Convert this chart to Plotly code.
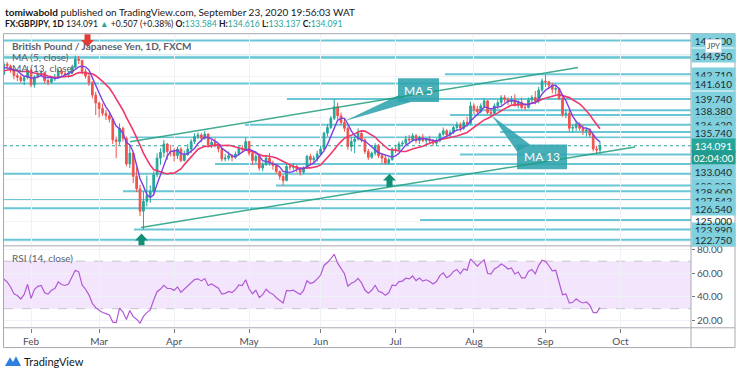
import numpy as np
import pandas as pd
import plotly.graph_objects as go

W, H = 740, 373

# ---------------- data (GBPJPY daily, FXCM) ----------------
close_warm = [143.90, 142.15, 142.55, 142.40, 143.55, 143.70, 142.55, 142.40, 142.90, 143.10, 143.95, 143.60, 143.45, 142.70]
high_warm  = [144.20, 143.90, 142.80, 142.90, 143.80, 144.00, 143.90, 142.90, 143.10, 143.40, 144.10, 144.20, 143.80, 143.60]
low_warm   = [143.40, 141.90, 141.80, 142.10, 142.10, 143.20, 142.40, 142.00, 142.30, 142.60, 143.00, 143.40, 143.10, 142.50]

close_jan = [143.95, 143.70, 143.25, 142.55, 142.35, 141.95, 142.30, 143.20]
high_jan  = [144.30, 144.20, 143.90, 143.30, 142.90, 142.60, 142.50, 143.70]
low_jan   = [142.60, 143.30, 142.90, 142.10, 141.90, 141.70, 141.40, 142.10]

close_feb = [141.45, 142.40, 142.80, 142.90, 141.95, 141.75, 142.15, 142.35, 143.10, 142.80,
             142.70, 142.85, 143.55, 144.55, 144.40, 143.05, 142.50, 141.70, 140.20, 139.25]
high_feb  = [143.40, 142.60, 143.10, 143.20, 142.95, 142.20, 142.40, 142.75, 143.35, 143.30,
             143.00, 143.10, 143.75, 144.95, 144.90, 144.35, 143.40, 142.80, 141.90, 140.60]
low_feb   = [141.15, 141.10, 142.20, 142.50, 141.60, 141.40, 141.60, 141.90, 142.20, 142.55,
             142.40, 142.30, 142.70, 143.40, 143.95, 142.70, 142.20, 141.30, 139.80, 137.80]

close_mar = [138.60, 138.00, 137.70, 137.30, 134.80, 134.60, 136.20, 135.00, 131.90, 133.20, 130.40,
             128.90, 126.20, 127.40, 128.10, 128.60, 130.60, 132.60, 133.30, 134.30, 133.40, 133.40]
high_mar  = [139.40, 139.20, 138.40, 138.10, 137.40, 135.20, 136.80, 136.40, 135.20, 134.20, 133.10,
             131.50, 129.40, 128.60, 130.50, 129.30, 131.00, 133.20, 133.80, 134.80, 134.40, 134.20]
low_mar   = [137.50, 137.70, 137.20, 136.90, 134.30, 132.60, 134.20, 134.60, 131.60, 131.40, 129.60,
             128.50, 125.60, 124.00, 126.80, 127.20, 128.40, 130.30, 131.80, 132.70, 132.40, 132.80]

close_apr = [132.90, 133.70, 132.30, 133.00, 133.70, 134.60, 135.20, 135.40, 135.00, 135.50, 134.20,
             134.50, 134.10, 133.70, 132.50, 132.60, 132.90, 132.70, 133.10, 133.80, 133.70, 134.60]
high_apr  = [133.80, 134.00, 133.90, 133.50, 134.30, 134.90, 135.60, 135.70, 135.60, 135.90, 135.60,
             134.80, 135.00, 134.40, 133.80, 133.10, 133.40, 133.10, 133.40, 134.10, 134.20, 135.10]
low_apr   = [132.20, 132.50, 132.10, 132.20, 132.90, 133.20, 134.30, 134.90, 134.50, 134.80, 133.90,
             133.80, 133.90, 133.30, 132.20, 132.20, 132.30, 132.20, 132.50, 132.90, 133.30, 133.60]

close_may = [133.20, 132.30, 132.80, 131.40, 131.80, 132.60, 132.00, 131.70, 131.00, 130.40, 129.90,
             131.60, 131.50, 131.60, 131.30, 130.90, 131.40, 132.80, 132.40, 132.60, 133.10]
high_may  = [134.60, 133.30, 133.10, 132.90, 132.10, 132.90, 133.20, 132.30, 131.90, 131.10, 130.60,
             131.90, 131.90, 132.00, 131.80, 131.40, 131.60, 133.00, 133.10, 132.90, 133.50]
low_may   = [132.90, 131.80, 132.00, 131.10, 131.00, 131.70, 131.70, 131.20, 130.70, 130.00, 129.30,
             129.80, 131.10, 131.10, 130.90, 130.50, 130.70, 131.30, 131.90, 131.90, 132.20]

close_jun = [133.70, 135.60, 136.30, 137.40, 138.80, 137.70, 136.90, 136.20, 134.00, 134.60, 134.90,
             135.60, 134.80, 133.40, 132.70, 133.20, 134.10, 132.90, 132.60, 132.00, 132.40, 133.70]
high_jun  = [134.10, 135.80, 136.70, 137.70, 139.75, 139.30, 138.10, 137.40, 136.50, 135.20, 135.20,
             136.20, 135.70, 135.00, 133.70, 133.40, 134.40, 134.30, 133.20, 132.90, 132.70, 133.90]
low_jun   = [132.90, 133.60, 135.20, 136.10, 137.20, 137.30, 136.60, 135.80, 133.60, 133.40, 133.20,
             134.70, 134.50, 133.10, 132.40, 132.50, 132.90, 132.60, 132.00, 131.80, 131.80, 132.30]

close_jul = [133.60, 134.30, 134.40, 134.90, 134.80, 135.30, 134.70, 135.10, 134.70, 134.90, 134.70, 134.40,
             134.70, 135.50, 135.90, 135.40, 135.70, 136.30, 136.60, 136.20, 136.90, 136.80, 138.90]
high_jul  = [134.20, 134.60, 134.70, 135.30, 135.40, 135.60, 135.50, 135.30, 135.50, 135.00, 135.30, 134.90,
             135.00, 135.70, 136.30, 136.10, 136.00, 136.50, 137.00, 136.90, 137.20, 137.60, 139.40]
low_jul   = [133.20, 133.40, 134.00, 134.30, 134.50, 134.60, 134.40, 134.30, 134.50, 134.00, 134.40, 134.10,
             134.20, 134.50, 135.30, 135.10, 135.10, 135.50, 135.90, 135.80, 136.00, 136.40, 136.60]

close_aug = [138.50, 138.20, 138.90, 139.50, 138.10, 138.00, 138.90, 139.30, 139.90, 139.70, 139.40,
             139.60, 139.00, 139.30, 138.70, 138.70, 139.60, 139.90, 139.50, 140.80, 141.90]
high_aug  = [139.20, 138.90, 139.20, 139.80, 139.60, 138.60, 139.20, 139.60, 140.20, 140.20, 139.90,
             140.10, 140.30, 139.60, 139.90, 139.20, 139.90, 140.20, 140.70, 141.20, 142.20]
low_aug   = [137.90, 137.90, 138.00, 138.60, 137.90, 137.70, 137.80, 138.50, 139.00, 139.30, 139.00,
             139.10, 138.80, 138.60, 138.50, 138.40, 138.60, 139.20, 139.10, 139.20, 140.60]

close_sep = [141.80, 141.40, 140.90, 141.00, 139.80, 137.90, 138.00, 136.20, 136.30, 136.70, 136.20,
             135.90, 136.00, 135.40, 133.70, 133.584, 134.091]
high_sep  = [142.71, 141.95, 141.70, 141.40, 141.10, 140.00, 138.50, 138.40, 136.60, 137.10, 136.90,
             136.60, 136.30, 136.20, 135.60, 134.10, 134.616]
low_sep   = [141.20, 140.90, 140.40, 140.30, 139.60, 137.60, 137.40, 135.80, 135.70, 135.90, 135.90,
             135.40, 135.20, 135.10, 133.40, 133.10, 133.137]

months = ["Feb", "Mar", "Apr", "May", "Jun", "Jul", "Aug", "Sep", "Oct"]

# horizontal support / resistance levels drawn on the chart (price, first bar index)
sr_levels = [146.80, 144.95, 144.71, 142.71, 141.61, 139.74, 138.38, 137.80, 136.62, 135.74,
             135.08, 133.04, 131.90, 130.70, 129.29, 128.60, 127.543, 126.54, 125.15, 123.99, 122.75]
sr_start  = [None, None, None, 143.5, None, 97.1, 150.9, 145.0, 84.8, 159.7,
             51.1, 147.9, 76.0, 14.0, 93.9, 49.0, None, None, 136.2, 52.2, None]

# price-axis tags (text, price, pixel shift)
axis_tags = [("146.800", 146.80, 0), ("144.950", 144.95, 0), ("142.710", 142.71, 0), ("141.610", 141.61, 0),
             ("139.740", 139.74, 0), ("137.800", 137.80, 0), ("138.380", 138.38, 0), ("136.620", 136.62, 0),
             ("135.740", 135.74, 0), ("133.040", 133.04, -17), ("129.290", 129.29, 0), ("128.600", 128.60, 0),
             ("127.543", 127.543, 0), ("126.540", 126.54, 0), ("123.990", 123.99, 0), ("122.750", 122.75, 0)]

# trend channel drawn by the author (bar index, price)
channel_upper = [(51.06, 134.57), (182.55, 143.52)]
channel_lower = [(54.3, 124.22), (199.3, 133.95)]

last_price = 134.091

# ---------------- derived series ----------------
dates = pd.bdate_range("2020-01-02", "2020-09-23")
close = close_warm + close_jan + close_feb + close_mar + close_apr + close_may + close_jun + close_jul + close_aug + close_sep
high = high_warm + high_jan + high_feb + high_mar + high_apr + high_may + high_jun + high_jul + high_aug + high_sep
low = low_warm + low_jan + low_feb + low_mar + low_apr + low_may + low_jun + low_jul + low_aug + low_sep
assert len(close) == len(high) == len(low) == len(dates), (len(close), len(high), len(low), len(dates))
opens = [close[0]] + close[:-1]  # FX daily bars open at the prior close

s = pd.Series(close)
ma5 = s.rolling(5).mean()
ma13 = s.rolling(13).mean()
d = s.diff().fillna(0)
up = d.clip(lower=0).ewm(alpha=1 / 14, adjust=False).mean()
dn = (-d.clip(upper=0)).ewm(alpha=1 / 14, adjust=False).mean()
rsi = 100 - 100 / (1 + up / dn)
x = np.arange(len(dates))

ext = pd.bdate_range("2020-01-02", "2020-10-30")
tickvals = [int(np.argmax(ext.month == m)) for m in range(2, 11)]

# ---------------- layout geometry (pixels) ----------------
PL, PR = 4, 691          # plot left/right
MT, MB = 30, 244         # main pane top/bottom
RT, RB = 245, 327.3      # rsi pane top/bottom
BAR_PX = (600 - 31) / (len(dates) - 1 - tickvals[0])
x_lo = tickvals[0] - (31 - PL) / BAR_PX
x_hi = tickvals[0] + (PR - 31) / BAR_PX
y_lo, y_hi = 122.074, 147.611

def px(v): return v / W
def py(v): return 1 - v / H
def P(a, b): return f"{px(a):.5f},{py(b):.5f}"
def poly(pts): return "M " + " L ".join(P(a, b) for a, b in pts) + " Z"

UP, DOWN = "#26a69a", "#ef5350"
LINE_BLUE = "#68c6d5"
TAG_BLUE = "#80d0dd"
FRAME = "#a6a9b0"
GRID = "#eef1f5"
FONT = "Lato"

fig = go.Figure()
fig.add_trace(go.Candlestick(
    x=x, open=opens, high=high, low=low, close=close,
    increasing=dict(line=dict(color=UP, width=1), fillcolor=UP),
    decreasing=dict(line=dict(color=DOWN, width=1), fillcolor=DOWN),
    whiskerwidth=0, showlegend=False, hoverinfo="skip", xaxis="x", yaxis="y"))
fig.add_trace(go.Scatter(x=x, y=ma13, mode="lines", line=dict(color="#f0386b", width=1.6),
                         showlegend=False, hoverinfo="skip", xaxis="x", yaxis="y"))
fig.add_trace(go.Scatter(x=x, y=ma5, mode="lines", line=dict(color="#7c3fe0", width=1.4),
                         showlegend=False, hoverinfo="skip", xaxis="x", yaxis="y"))
fig.add_trace(go.Scatter(x=x, y=rsi, mode="lines", line=dict(color="#b25ad6", width=1.2),
                         showlegend=False, hoverinfo="skip", xaxis="x2", yaxis="y2"))

shapes = []
# RSI band
shapes.append(dict(type="rect", xref="x2 domain", yref="y2", x0=0, x1=1, y0=30, y1=70,
                   fillcolor="#f3e5fc", line=dict(width=0), layer="below"))
for lvl in (30, 70):
    shapes.append(dict(type="line", xref="x2 domain", yref="y2", x0=0, x1=1, y0=lvl, y1=lvl,
                       line=dict(color="#c4c6cc", width=1, dash="dash"), layer="below"))
# S/R lines
for lvl, st in zip(sr_levels, sr_start):
    shapes.append(dict(type="line", xref="x", yref="y", x0=x_lo if st is None else st, x1=x_hi,
                       y0=lvl, y1=lvl, line=dict(color=LINE_BLUE, width=2), layer="below"))
# last price dotted line
shapes.append(dict(type="line", xref="x", yref="y", x0=x_lo, x1=x_hi, y0=last_price, y1=last_price,
                   line=dict(color=UP, width=1, dash="dot"), layer="below"))

# arrows
def up_arrow(cx, top, bot):
    return poly([(cx, top), (cx + 6.5, top + 7), (cx + 3, top + 7), (cx + 3, bot), (cx - 3, bot),
                 (cx - 3, top + 7), (cx - 6.5, top + 7)])

def down_arrow(cx, top, bot):
    return poly([(cx - 3, top), (cx + 3, top), (cx + 3, bot - 7), (cx + 6.5, bot - 7), (cx, bot),
                 (cx - 6.5, bot - 7), (cx - 3, bot - 7)])

for path, col in ((up_arrow(141.5, 232, 244), "#138f78"), (up_arrow(389.5, 171.5, 185), "#138f78"),
                  (down_arrow(87.5, 30.5, 43.5), "#e53935")):
    shapes.append(dict(type="path", xref="paper", yref="paper", path=path, fillcolor=col,
                       line=dict(width=0), layer="above"))

# callouts
CALL = "#2fa3ae"
for pts in ([(398, 75), (439, 75), (439, 99), (398, 99)], [(399, 92), (344, 118.5), (411, 99)],
            [(517, 142), (567, 142), (567, 167), (517, 167)], [(530, 142), (492, 113), (517, 149)]):
    shapes.append(dict(type="path", xref="paper", yref="paper", path=poly(pts),
                       fillcolor=CALL, opacity=0.88, line=dict(width=0), layer="above"))

# channel (drawn over the callouts, as in the original)
for ch in (channel_upper, channel_lower):
    shapes.append(dict(type="line", xref="x", yref="y", x0=ch[0][0], y0=ch[0][1], x1=ch[1][0], y1=ch[1][1],
                       line=dict(color="#1f9e7e", width=1.5), opacity=0.85, layer="above"))

# frame
def seg(x0, y0, x1, y1, col=FRAME, w=1):
    return dict(type="line", xref="paper", yref="paper", x0=px(x0), y0=py(y0), x1=px(x1), y1=py(y1),
                line=dict(color=col, width=w), layer="above")
shapes += [seg(3.5, 30, 735, 30), seg(3.5, 347.3, 735, 347.3), seg(3.5, 30, 3.5, 347.3),
           seg(735, 30, 735, 347.3), seg(691, 30, 691, 347.3), seg(3.5, 244.5, 735, 244.5),
           seg(3.5, 327.3, 735, 327.3)]
# logo icon
shapes.append(dict(type="path", xref="paper", yref="paper",
                   path=poly([(5, 366), (10, 357), (13, 362), (16, 356), (21, 366)]),
                   fillcolor="#2e7fe0", line=dict(width=0), layer="above"))

ann = []
ann.append(dict(x=px(3), y=py(8), xref="paper", yref="paper", xanchor="left", yanchor="middle",
                showarrow=False, font=dict(family=FONT, size=10, color="#131722"),
                text="<b>tomiwabold</b> published on TradingView.com, September 23, 2020 19:56:03 WAT"))
ann.append(dict(x=px(3), y=py(20.5), xref="paper", yref="paper", xanchor="left", yanchor="middle",
                showarrow=False, font=dict(family=FONT, size=8.6, color="#131722"),
                text=("<b>FX:GBPJPY, 1D</b> 134.091 <span style='color:#26a69a'>▲</span> +0.507 (+0.38%) "
                      "<b>O:</b><span style='color:#26a69a'>133.584</span> <b>H:</b><span style='color:#26a69a'>134.616</span> "
                      "<b>L:</b><span style='color:#26a69a'>133.137</span> <b>C:</b><span style='color:#26a69a'>134.091</span>")))
for txt, yy, bold in (("British Pound / Japanese Yen, 1D, FXCM", 42.7, True), ("MA (5, close)", 53.5, False),
                      ("MA (13, close)", 64.5, False)):
    ann.append(dict(x=px(10), y=py(yy), xref="paper", yref="paper", xanchor="left", yanchor="middle",
                    showarrow=False, font=dict(family=FONT, size=10, color="#5d606b"),
                    text=f"<b>{txt}</b>" if bold else txt))
ann.append(dict(x=px(10), y=py(257), xref="paper", yref="paper", xanchor="left", yanchor="middle",
                showarrow=False, font=dict(family=FONT, size=10, color="#5d606b"), text="RSI (14, close)"))
# price-axis tags
for txt, lvl, shift in axis_tags:
    ann.append(dict(x=px(713), y=lvl, xref="paper", yref="y", yshift=shift, xanchor="center", yanchor="middle",
                    showarrow=False, bgcolor=TAG_BLUE, width=41, height=11, borderpad=1,
                    font=dict(family=FONT, size=10, color="#1e2a33"), text=txt))
ann.append(dict(x=px(713), y=125.0, xref="paper", yref="y", xanchor="center", yanchor="middle",
                showarrow=False, font=dict(family=FONT, size=10, color="#1e2a33"), text="125.000"))
ann.append(dict(x=px(713), y=last_price, xref="paper", yref="y", xanchor="center", yanchor="middle",
                showarrow=False, bgcolor=UP, width=41, height=11, borderpad=1,
                font=dict(family=FONT, size=10, color="white"), text="134.091"))
ann.append(dict(x=px(713), y=last_price, yshift=-12, xref="paper", yref="y", xanchor="center", yanchor="middle",
                showarrow=False, bgcolor="#1f9c8f", width=41, height=11, borderpad=1,
                font=dict(family=FONT, size=10, color="white"), text="02:04:00"))
ann.append(dict(x=px(713), y=py(42.5), xref="paper", yref="paper", xanchor="center", yanchor="middle",
                showarrow=False, bgcolor="white", bordercolor="#d1d4dc", borderwidth=1, borderpad=1,
                font=dict(family=FONT, size=8, color="#4a4e59"), text="JPY"))
ann.append(dict(x=px(418.5), y=py(87), xref="paper", yref="paper", xanchor="center", yanchor="middle",
                showarrow=False, font=dict(family=FONT, size=12, color="white"), text="MA 5"))
ann.append(dict(x=px(542), y=py(154.5), xref="paper", yref="paper", xanchor="center", yanchor="middle",
                showarrow=False, font=dict(family=FONT, size=12, color="white"), text="MA 13"))
ann.append(dict(x=px(22), y=py(361), xref="paper", yref="paper", xanchor="left", yanchor="middle",
                showarrow=False, font=dict(family=FONT, size=11, color="#131722"), text="TradingView"))

fig.update_layout(
    width=W, height=H, autosize=False, margin=dict(l=0, r=0, t=0, b=0),
    paper_bgcolor="white", plot_bgcolor="white", showlegend=False,
    font=dict(family=FONT, size=10, color="#4a4e59"),
    xaxis=dict(domain=[px(PL), px(PR)], range=[x_lo, x_hi], anchor="y", tickvals=tickvals,
               showticklabels=False, showgrid=True, gridcolor=GRID, zeroline=False,
               rangeslider=dict(visible=False), fixedrange=True),
    xaxis2=dict(domain=[px(PL), px(PR)], range=[x_lo, x_hi], anchor="y2", matches="x", tickvals=tickvals,
                ticktext=months, ticks="outside", ticklen=4, tickcolor="#787b86",
                tickfont=dict(family=FONT, size=10, color="#4a4e59"),
                showgrid=True, gridcolor=GRID, zeroline=False),
    yaxis=dict(domain=[py(MB), py(MT)], range=[y_lo, y_hi], anchor="x", showticklabels=False,
               tick0=0, dtick=2.5, showgrid=True, gridcolor="#f1f3f6", zeroline=False),
    yaxis2=dict(domain=[py(RB), py(RT)], range=[13.9, 82.5], anchor="x2", side="right",
                tickvals=[20, 40, 60, 80], ticktext=["20.00", "40.00", "60.00", "80.00"],
                ticks="outside", ticklen=3, tickcolor="#787b86",
                tickfont=dict(family=FONT, size=10, color="#4a4e59"),
                showgrid=True, gridcolor=GRID, zeroline=False),
    shapes=shapes, annotations=ann,
)
fig.write_html("out.html", config={"displayModeBar": False},
               post_script="document.body.style.margin='0px';document.body.style.overflow='hidden';")
